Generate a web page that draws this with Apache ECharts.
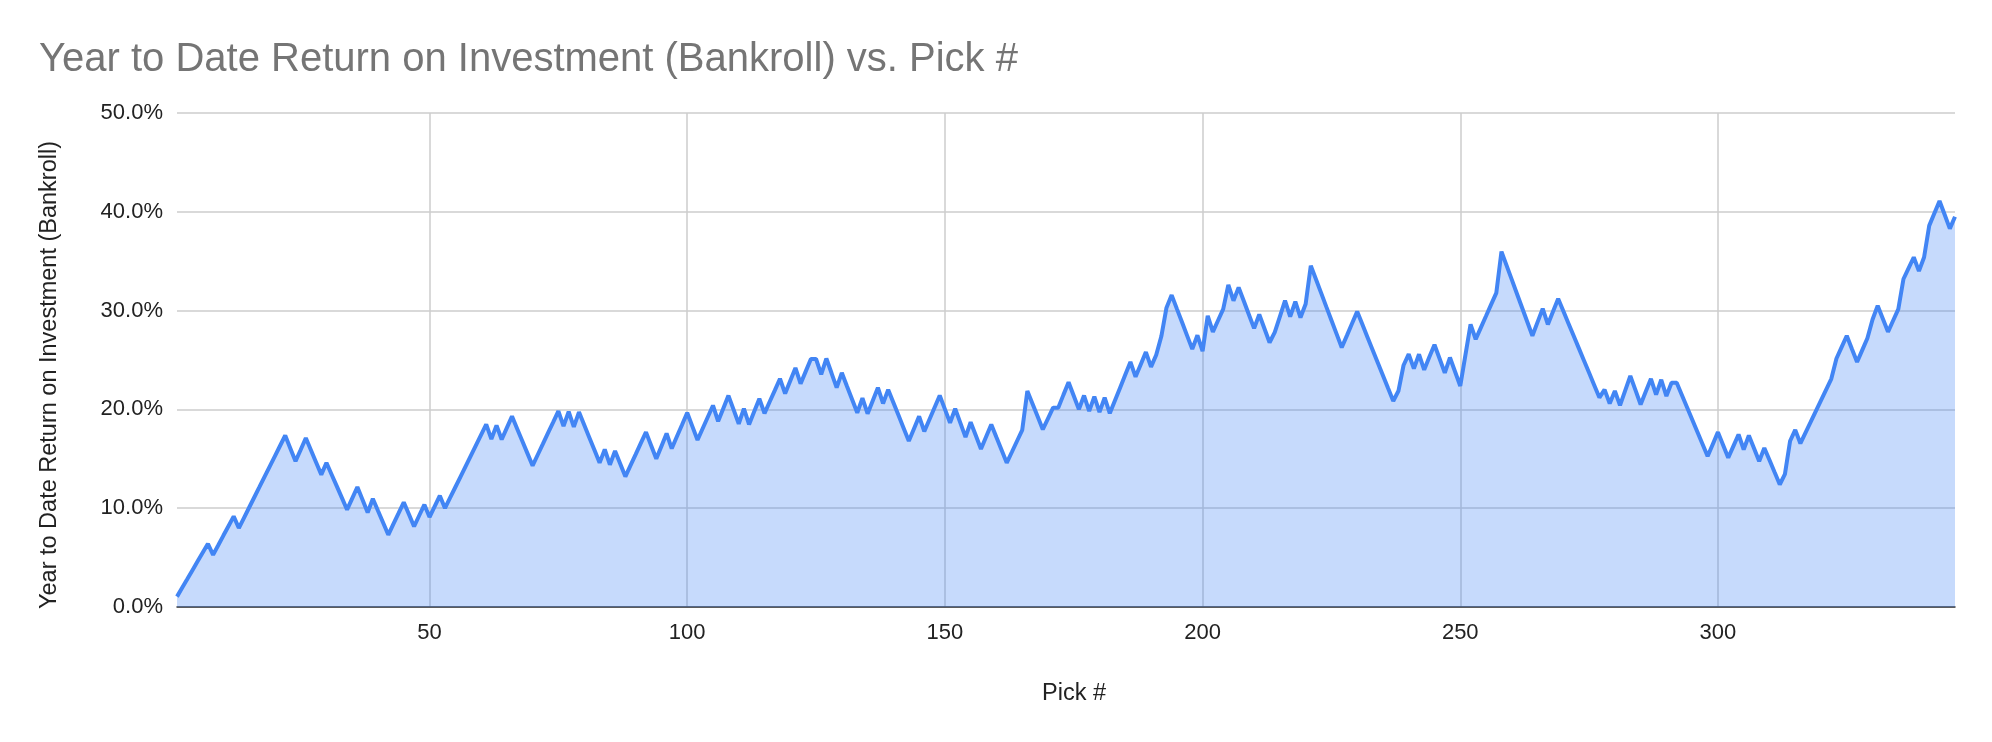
<!DOCTYPE html>
<html>
<head>
<meta charset="utf-8">
<script src="https://cdn.jsdelivr.net/npm/echarts@6/dist/echarts.min.js"></script>
<style>
html,body{margin:0;padding:0;background:#fff;}
#chart{width:1992px;height:742px;}
</style>
</head>
<body>
<div id="chart"></div>
<script>
// Year-to-date ROI (%) for picks 1..N
const roiValues = [
  1.05, 1.94, 2.83, 3.73, 4.62, 5.51, 6.40, 5.28, 6.25, 7.23,
  8.20, 9.17, 7.99, 9.03, 10.07, 11.11, 12.15, 13.20, 14.24, 15.28,
  16.32, 17.36, 16.05, 14.75, 15.92, 17.10, 15.87, 14.63, 13.40, 14.60,
  13.41, 12.23, 11.04, 9.85, 11.00, 12.15, 10.86, 9.57, 10.96, 9.74,
  8.53, 7.31, 8.41, 9.50, 10.60, 9.38, 8.15, 9.26, 10.36, 9.10,
  10.19, 11.27, 10.00, 11.06, 12.12, 13.18, 14.24, 15.30, 16.36, 17.42,
  18.48, 17.00, 18.38, 16.95, 18.13, 19.30, 18.05, 16.80, 15.55, 14.30,
  15.41, 16.51, 17.62, 18.72, 19.83, 18.30, 19.77, 18.24, 19.73, 18.45,
  17.16, 15.88, 14.59, 15.94, 14.40, 15.80, 14.50, 13.20, 14.33, 15.45,
  16.58, 17.70, 16.35, 15.00, 16.28, 17.56, 16.04, 17.25, 18.45, 19.66,
  18.28, 16.90, 18.07, 19.23, 20.40, 18.80, 20.10, 21.40, 19.98, 18.55,
  20.07, 18.48, 19.78, 21.08, 19.60, 20.77, 21.93, 23.10, 21.60, 22.90,
  24.20, 22.60, 23.85, 25.10, 25.10, 23.55, 25.15, 23.68, 22.20, 23.70,
  22.35, 21.01, 19.66, 21.15, 19.56, 20.88, 22.20, 20.60, 22.00, 20.70,
  19.40, 18.10, 16.80, 18.05, 19.30, 17.77, 18.98, 20.19, 21.40, 20.03,
  18.65, 20.07, 18.64, 17.20, 18.70, 17.35, 16.00, 17.24, 18.48, 17.18,
  15.89, 14.59, 15.69, 16.80, 17.90, 21.86, 20.56, 19.27, 17.97, 19.07,
  20.17, 20.17, 21.47, 22.75, 21.38, 20.00, 21.40, 19.83, 21.30, 19.73,
  21.20, 19.60, 20.90, 22.20, 23.50, 24.80, 23.30, 24.55, 25.80, 24.30,
  25.50, 27.40, 30.30, 31.57, 30.20, 28.84, 27.47, 26.10, 27.50, 25.90,
  29.47, 27.85, 29.00, 30.15, 32.60, 31.00, 32.35, 30.97, 29.58, 28.20,
  29.60, 28.19, 26.77, 27.80, 29.40, 31.00, 29.40, 30.90, 29.30, 30.66,
  34.55, 33.17, 31.79, 30.40, 29.02, 27.64, 26.26, 27.47, 28.69, 29.90,
  28.61, 27.31, 26.02, 24.73, 23.44, 22.14, 20.85, 21.86, 24.47, 25.60,
  24.13, 25.58, 24.00, 25.30, 26.55, 25.13, 23.70, 25.25, 23.81, 22.37,
  25.50, 28.60, 27.10, 28.28, 29.45, 30.63, 31.80, 35.97, 34.55, 33.13,
  31.71, 30.29, 28.87, 27.45, 28.83, 30.20, 28.60, 29.90, 31.20, 29.95,
  28.70, 27.45, 26.20, 24.95, 23.70, 22.45, 21.20, 22.00, 20.60, 21.86,
  20.40, 21.90, 23.40, 21.95, 20.50, 21.80, 23.10, 21.50, 23.00, 21.35,
  22.70, 22.70, 21.46, 20.22, 18.98, 17.74, 16.50, 15.26, 16.48, 17.70,
  16.40, 15.10, 16.28, 17.46, 15.94, 17.36, 16.06, 14.75, 16.10, 14.87,
  13.63, 12.40, 13.45, 16.80, 17.93, 16.55, 17.64, 18.73, 19.83, 20.92,
  22.01, 23.10, 25.15, 26.30, 27.45, 26.12, 24.80, 26.00, 27.20, 29.10,
  30.50, 29.18, 27.85, 29.00, 30.15, 33.20, 34.30, 35.40, 34.00, 35.40,
  38.60, 39.85, 41.10, 39.70, 38.30, 39.50
];
const xTickValues = [50, 100, 150, 200, 250, 300];
const yTickValues = [0, 10, 20, 30, 40, 50];
const titleText = 'Year to Date Return on Investment (Bankroll) vs. Pick #';
const xAxisName = 'Pick #';
const yAxisName = 'Year to Date Return on Investment (Bankroll)';

const seriesData = roiValues.map((v, i) => [i + 1, v]);
const FONT = '"Liberation Sans", Arial, Helvetica, sans-serif';

const chart = echarts.init(document.getElementById('chart'), null, {renderer: 'canvas'});
chart.setOption({
  animation: false,
  backgroundColor: '#ffffff',
  title: {
    text: titleText,
    left: 34,
    top: 35,
    textStyle: {fontFamily: FONT, fontSize: 40, fontWeight: 'normal', color: '#757575'}
  },
  grid: {left: 177, right: 37, top: 113, bottom: 135, containLabel: false},
  xAxis: {
    type: 'value',
    min: 1,
    max: roiValues.length,
    name: xAxisName,
    nameLocation: 'middle',
    nameGap: 75,
    nameTextStyle: {fontFamily: FONT, fontSize: 23.5, color: '#222222', padding: [0, 0, 0, 16]},
    axisLine: {show: true, onZero: false, lineStyle: {color: '#333333', width: 1.5}},
    axisTick: {show: false, customValues: xTickValues},
    axisLabel: {customValues: xTickValues, fontFamily: FONT, fontSize: 22, color: '#222222', margin: 15},
    splitLine: {show: true, lineStyle: {color: '#cccccc', width: 1.5}}
  },
  yAxis: {
    type: 'value',
    min: yTickValues[0],
    max: yTickValues[yTickValues.length - 1],
    interval: 10,
    name: yAxisName,
    nameLocation: 'middle',
    nameGap: 115,
    nameRotate: 90,
    nameTextStyle: {fontFamily: FONT, fontSize: 23.5, color: '#222222', padding: [0, 30, 0, 0]},
    axisLine: {show: false},
    axisTick: {show: false},
    axisLabel: {formatter: v => v.toFixed(1) + '%', fontFamily: FONT, fontSize: 22, color: '#222222', margin: 14},
    splitLine: {show: true, lineStyle: {color: '#cccccc', width: 1.5}}
  },
  series: [{
    type: 'line',
    data: seriesData,
    showSymbol: false,
    symbol: 'none',
    smooth: false,
    lineStyle: {color: '#4285F4', width: 4},
    areaStyle: {color: '#4285F4', opacity: 0.3},
    z: 3
  }]
});
</script>
</body>
</html>
